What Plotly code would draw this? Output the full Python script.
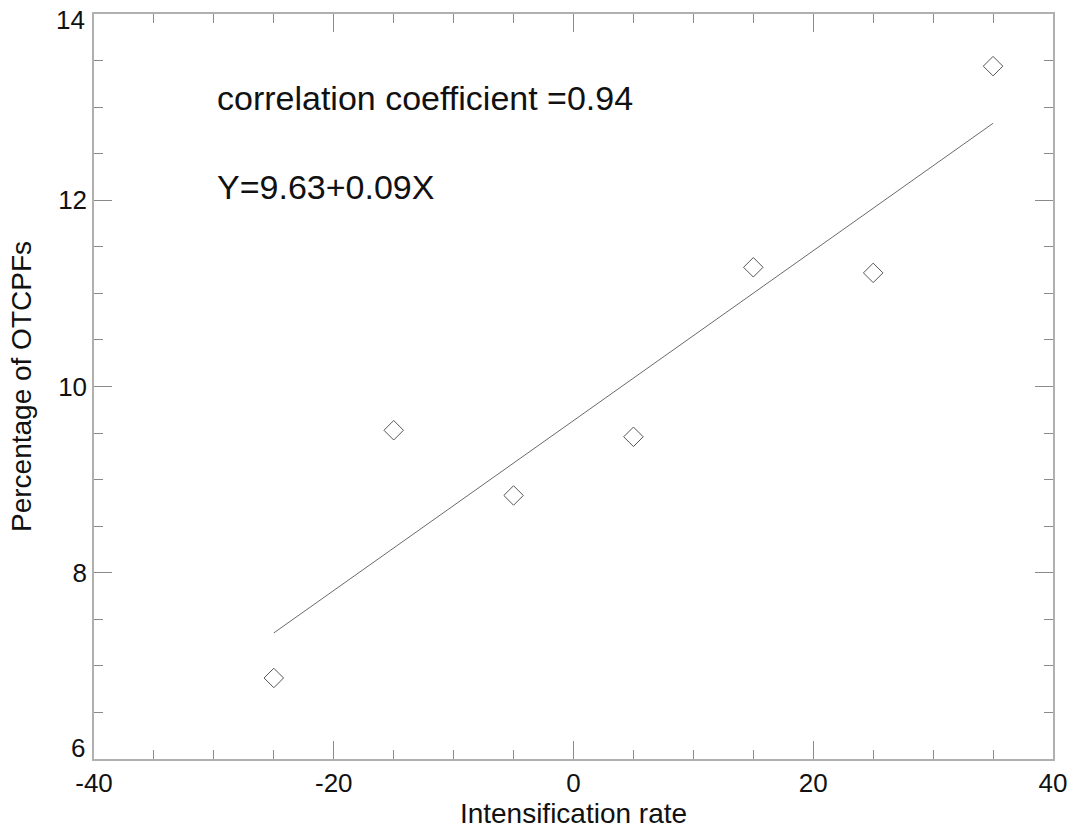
import numpy as np
import plotly.graph_objects as go

# Intensification rate bins and percentage of OTCPFs in each bin
intensification_rate = [-25, -15, -5, 5, 15, 25, 35]
otcpf_percentage = [6.87, 9.53, 8.83, 9.46, 11.28, 11.22, 13.44]

x_ticks = [-40, -20, 0, 20, 40]
y_ticks = [8, 10, 12]
y_end_ticks = [6, 14]

# least-squares fit and correlation
slope, intercept = np.polyfit(intensification_rate, otcpf_percentage, 1)
r = np.corrcoef(intensification_rate, otcpf_percentage)[0, 1]
fit_x = [min(intensification_rate), max(intensification_rate)]
fit_y = [intercept + slope * v for v in fit_x]

FONT = "Liberation Sans, Arial, Helvetica, sans-serif"
AXIS_GRAY = "#b0b0b0"
TICK_GRAY = "#8a8a8a"
TEXT = "#111111"

fig = go.Figure()
fig.add_trace(go.Scatter(
    x=fit_x, y=fit_y, mode="lines",
    line=dict(color="#6a6a6a", width=1), showlegend=False, hoverinfo="skip",
))
fig.add_trace(go.Scatter(
    x=intensification_rate, y=otcpf_percentage, mode="markers",
    marker=dict(symbol="diamond-open", size=15, color="#555555",
                line=dict(color="#555555", width=1)),
    showlegend=False,
))

fig.add_annotation(
    x=0.126, y=0.887, xref="paper", yref="paper", xanchor="left", yanchor="middle",
    text=f"correlation coefficient ={r:.2f}", showarrow=False,
    font=dict(family=FONT, size=34, color=TEXT),
)
fig.add_annotation(
    x=0.126, y=0.768, xref="paper", yref="paper", xanchor="left", yanchor="middle",
    text=f"Y={intercept:.2f}+{slope:.2f}X", showarrow=False,
    font=dict(family=FONT, size=34, color=TEXT),
)

# end labels of the y axis sit just inside the axis range
for v, shift in zip(y_end_ticks, [11, -6]):
    fig.add_annotation(
        x=0, y=v, xref="paper", yref="y", xanchor="right", yanchor="middle",
        xshift=-7, yshift=shift, text=str(v), showarrow=False,
        font=dict(family=FONT, size=26, color=TEXT),
    )

axis_common = dict(
    showline=True, linecolor=AXIS_GRAY, linewidth=1.5, mirror="ticks",
    ticks="inside", ticklen=18, tickwidth=1, tickcolor=TICK_GRAY,
    showgrid=False, zeroline=False, ticklabeloverflow="allow",
    tickfont=dict(family=FONT, size=26, color=TEXT),
)

fig.update_layout(
    width=1079, height=833,
    margin=dict(l=94, r=24, t=13, b=74),
    paper_bgcolor="white", plot_bgcolor="white",
    xaxis=dict(
        range=[-40, 40], tickvals=x_ticks, ticktext=[str(v) for v in x_ticks],
        minor=dict(dtick=5, tick0=0, ticks="inside", ticklen=9, tickcolor=TICK_GRAY, tickwidth=1),
        title=dict(text="Intensification rate", font=dict(family=FONT, size=28, color=TEXT),
                   standoff=0),
        **axis_common,
    ),
    yaxis=dict(
        range=[6, 14], tickvals=y_ticks, ticktext=[str(v) for v in y_ticks],
        minor=dict(dtick=0.5, tick0=0, ticks="inside", ticklen=9, tickcolor=TICK_GRAY, tickwidth=1),
        title=dict(text="Percentage of OTCPFs", font=dict(family=FONT, size=28, color=TEXT),
                   standoff=18),
        **axis_common,
    ),
)

fig.write_html("out.html")
